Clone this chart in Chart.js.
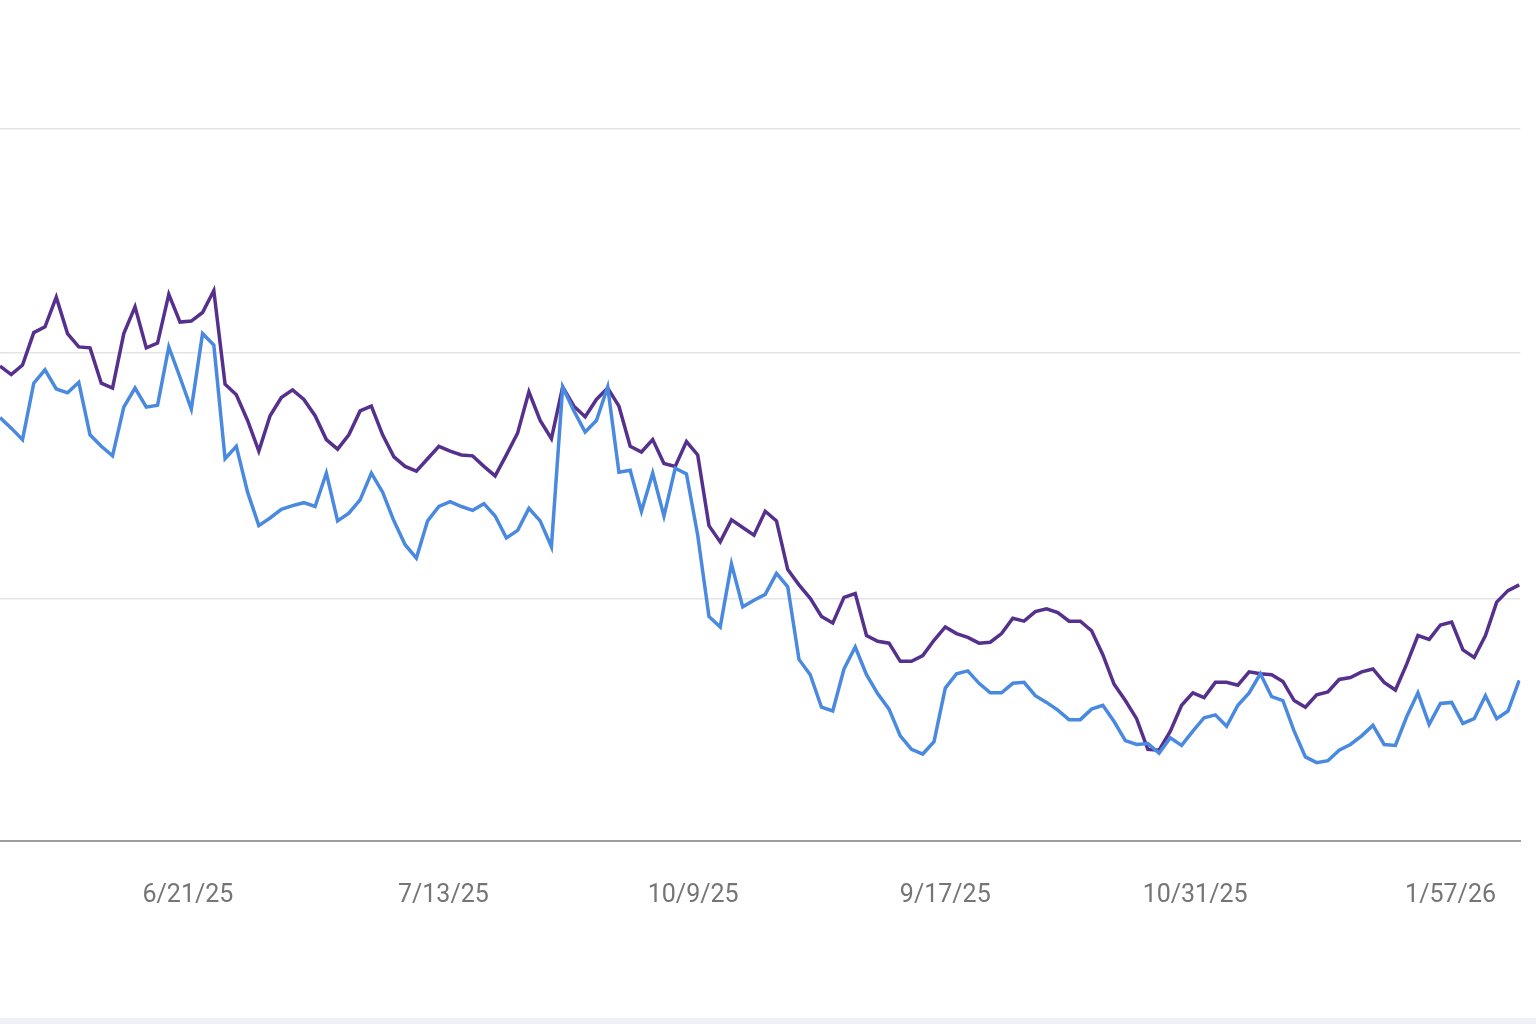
<!DOCTYPE html>
<html><head><meta charset="utf-8">
<script src="https://cdn.jsdelivr.net/npm/chart.js@4"></script>
<style>
html,body{margin:0;padding:0;background:#fff;width:1536px;height:1024px;overflow:hidden}
#c{position:absolute;left:0;top:0;width:1536px;height:1018px}
#band{position:absolute;left:0;top:1018px;width:1536px;height:6px;background:#eef2f7}
</style></head><body>
<canvas id="c" width="1536" height="1018"></canvas><div id="band"></div>
<script>
const tickLabels = ["6/21/25","7/13/25","10/9/25","9/17/25","10/31/25","1/57/26"];
const tickPositions = [16.7, 39.4, 61.6, 84.0, 106.2, 128.9];
const gridValues = [253, 511, 745];
const purpleSeries = [497,488,498,532,538,569,531,517,516,479,474,531,559,516,521,572,543,544,553,576,478,467,440,408,445,464,472,462,445,420,410,425,450,455,425,402,392,387,400,413,408,404,403,392,382,404,427,470,440,421,475,455,444,462,474,455,413,407,420,395,392,418,404,330,313,336,328,320,345,335,284,268,254,235,228,255,259,215,209,207,188,188,194,210,224,217,213,207,208,217,233,230,240,243,239,230,230,220,195,164,147,128,96,95,115,142,155,150,166,166,163,177,175,174,167,147,140,153,156,169,171,177,180,166,158,185,215,211,226,229,200,192,215,250,262,268];
const blueSeries = [443,432,420,479,493,473,469,480,425,413,403,454,474,454,456,517,485,452,531,519,400,413,365,330,338,347,351,354,350,385,335,343,357,385,365,335,310,296,335,350,355,350,346,353,340,317,325,348,335,308,475,450,428,440,475,386,388,345,385,340,390,384,320,235,224,290,245,252,258,280,266,190,174,140,136,180,203,174,154,138,110,96,91,104,160,175,178,165,155,155,165,166,152,145,137,127,127,138,142,125,105,101,102,92,108,100,115,129,132,120,142,155,175,151,147,115,88,82,84,95,101,110,121,101,100,130,155,122,144,145,123,128,152,128,136,168];
const idx = purpleSeries.map((_, i) => i);

new Chart(document.getElementById('c'), {
  type: 'line',
  data: {
    labels: idx,
    datasets: [
      {data: blueSeries.map((v,i)=>({x:idx[i],y:v})), borderColor:'#4a89e0', borderWidth:3.5, pointRadius:0, tension:0},
      {data: purpleSeries.map((v,i)=>({x:idx[i],y:v})), borderColor:'#55308c', borderWidth:3.5, pointRadius:0, tension:0}
    ]
  },
  options: {
    responsive:false, maintainAspectRatio:false, animation:false, devicePixelRatio:1,
    layout:{padding:{left:0,right:0,top:0,bottom:67}},
    plugins:{legend:{display:false}, tooltip:{enabled:false}},
    scales:{
      x:{type:'linear', min:0, max:135.1, offset:false,
        afterBuildTicks:(s)=>{s.ticks = tickPositions.map(v=>({value:v}));},
        ticks:{autoSkip:false, maxRotation:0, padding:40, color:'#757575', font:{family:'Roboto', size:25},
          callback:(v,i)=>tickLabels[i]},
        grid:{display:false, drawTicks:false},
        border:{display:true, color:'#9e9e9e', width:2}
      },
      y:{min:0, max:880, display:true,
        afterBuildTicks:(s)=>{s.ticks = gridValues.map(v=>({value:v}));},
        ticks:{display:false},
        grid:{color:'#e5e5e5', lineWidth:1.5, drawTicks:false},
        border:{display:false}
      }
    }
  }
});
</script></body></html>
